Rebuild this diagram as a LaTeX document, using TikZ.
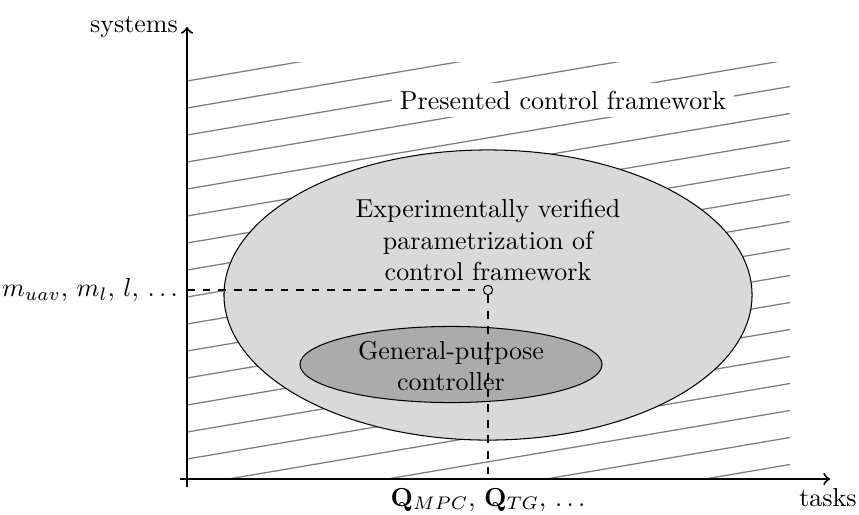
\documentclass[tikz,border=0pt]{standalone}
\usetikzlibrary{shapes.geometric}
\begin{document}
\begin{tikzpicture}[x=0.385pt,y=-0.385pt,
  hatch/.style={gray,line width=0.5pt},
  axis/.style={thick,->},
  region/.style={ellipse,draw,thin,inner sep=0pt},
  guide/.style={dashed,semithick},
  marker/.style={circle,draw,thin,fill=black!15,inner sep=0pt,minimum size=3.6pt},
  lbl/.style={align=center,inner sep=0pt}]
\useasboundingbox (0,0) rectangle (859,514);

% hatched domain of the presented framework
\begin{scope}
  \clip (187,62) rectangle (790,479);
  \foreach \k in {-1,...,19}
    \draw[hatch] (187,{81+27*\k}) -- ++(603,-102.5);
\end{scope}

% nested regions
\node[region,fill=black!15,minimum width=203.3pt,minimum height=111.7pt] (outer) at (488,295) {};
\node[fill=white,inner sep=3pt] (present) at (563,100) {Presented control framework};
\node[region,fill=black!33,minimum width=116.3pt,minimum height=29.3pt] (inner) at (451,364.5) {};
\node[lbl] (outertxt) at (488,240) {Experimentally verified\\parametrization of\\control framework};
\node[lbl] (innertxt) at (451,366) {General-purpose\\controller};

% operating point with its projections
\coordinate (ytick) at (187,290);
\coordinate (xtick) at (488,479);
\node[marker] (pt) at (488,290) {};
\draw[guide] (ytick) -- (pt.west);
\draw[guide] (pt.south) -- (xtick);

% axes
\coordinate (xstart) at (180,479);
\coordinate (xend) at (830,479);
\coordinate (ystart) at (187,487);
\coordinate (yend) at (187,27);
\draw[axis] (xstart) -- (xend);
\draw[axis] (ystart) -- (yend);

% axis labels
\node[left] (ylab) at (yend) {systems};
\node[anchor=north] (xlab) at (828,479) {tasks};
\node[left] (ytlab) at (ytick) {$m_{uav}$, $m_l$, $l$, $\dots$};
\node[below] (xtlab) at (xtick) {$\mathbf{Q}_{MPC}$, $\mathbf{Q}_{TG}$, $\dots$};
\end{tikzpicture}
\end{document}
